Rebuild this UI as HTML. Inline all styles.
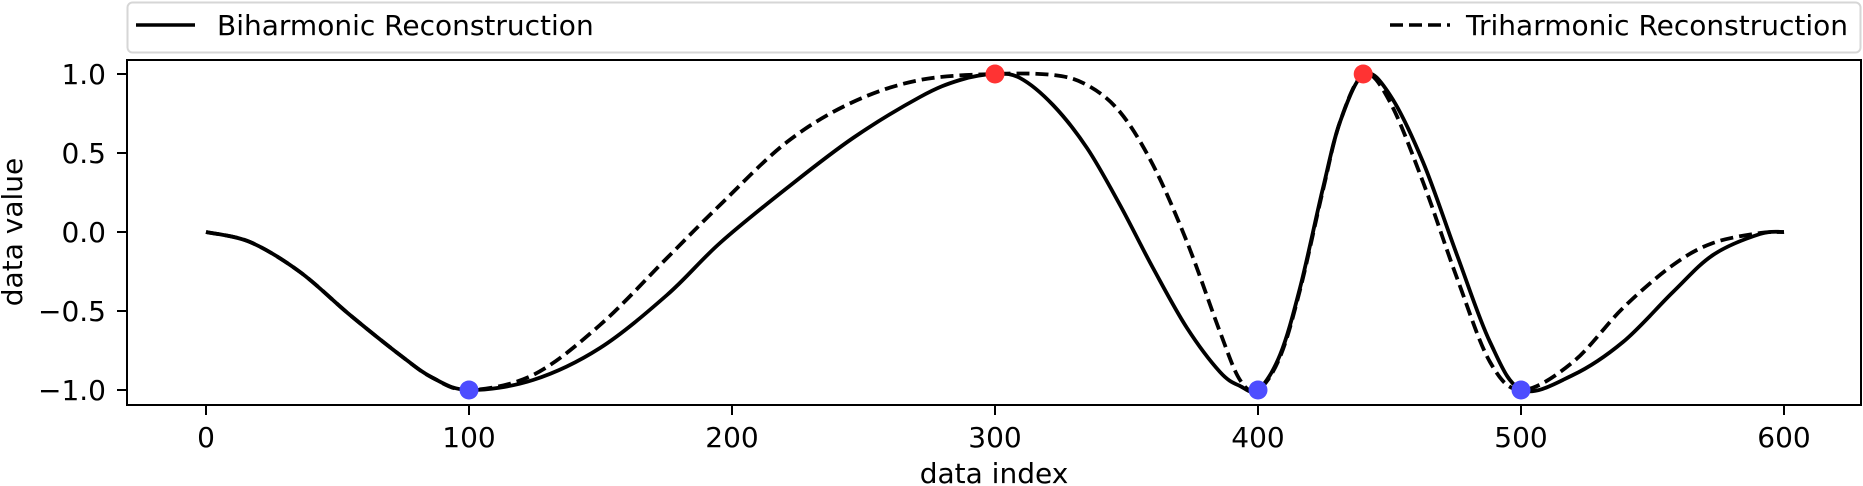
<!DOCTYPE html>
<html><head><meta charset="utf-8"><style>
html,body{margin:0;padding:0;background:#fff}
svg{display:block}
text{font-family:"DejaVu Sans","Liberation Sans",sans-serif;font-size:28px;fill:#000}
</style></head><body>
<svg id="s" width="1863" height="486" xmlns="http://www.w3.org/2000/svg">
<rect x="0" y="0" width="1863" height="486" fill="#fff"/>
<rect x="127.5" y="2.5" width="1733" height="50" rx="5" fill="#fff" stroke="#d6d6d6" stroke-width="2"/>
<line x1="136" y1="25" x2="195" y2="25" stroke="#000" stroke-width="3.5"/>
<text x="217" y="35">Biharmonic Reconstruction</text>
<line x1="1390" y1="25" x2="1450" y2="25" stroke="#000" stroke-width="3.5" stroke-dasharray="13,6"/>
<text x="1848" y="35" text-anchor="end">Triharmonic Reconstruction</text>
<path id="solid" fill="none" stroke="#000" stroke-width="3.8" stroke-linejoin="round"/>
<path id="dash" fill="none" stroke="#000" stroke-width="3.8" stroke-dasharray="13,6"/>
<g id="marks"></g>
<rect x="127" y="60" width="1734" height="345" fill="none" stroke="#000" stroke-width="2"/>
<g id="ticks" stroke="#000" stroke-width="2"></g>
<g id="labels"></g>
<text x="994" y="483" text-anchor="middle">data index</text>
<text transform="translate(22,232) rotate(-90)" text-anchor="middle">data value</text>
</svg>
<script>
const NS="http://www.w3.org/2000/svg";
const X=v=>206+2.63*v, Y=v=>232-158*v;
function cr(pts){let d="M"+pts[0][0]+","+pts[0][1];for(let i=0;i<pts.length-1;i++){const p0=pts[Math.max(0,i-1)],p1=pts[i],p2=pts[i+1],p3=pts[Math.min(pts.length-1,i+2)];
const c1=[p1[0]+(p2[0]-p0[0])/6,p1[1]+(p2[1]-p0[1])/6],c2=[p2[0]-(p3[0]-p1[0])/6,p2[1]-(p3[1]-p1[1])/6];
d+=" C"+c1[0].toFixed(1)+","+c1[1].toFixed(1)+" "+c2[0].toFixed(1)+","+c2[1].toFixed(1)+" "+p2[0].toFixed(1)+","+p2[1].toFixed(1);}return d;}
const head=[[206,232],[250,242],[300,272],[350,315],[400,355],[433,378],[469,390]];
const solid=head.concat([[533,380],[600,348],[667,295],[720,243],[787,188],[853,138],[920,97],[960,80],[995,74],
[1020,78],[1053,105],[1087,148],[1120,205],[1153,268],[1187,328],[1220,372],[1240,386],[1258,390],
[1280,355],[1300,288],[1323,188],[1340,122],[1364,74],[1390,95],[1423,162],[1457,255],[1490,342],[1522,390],
[1573,375],[1623,342],[1673,292],[1713,255],[1760,234],[1784,232]]);
const dash=head.concat([[533,375],[600,325],[667,258],[720,205],[787,142],[853,102],[920,80],[995,74],
[1053,75],[1087,85],[1120,112],[1153,165],[1187,242],[1220,332],[1240,380],[1258,390],
[1280,357],[1300,290],[1323,190],[1340,122],[1364,74],[1390,102],[1423,182],[1457,278],[1490,362],[1522,390],
[1573,362],[1623,308],[1673,265],[1713,243],[1760,233],[1784,232]]);
document.getElementById("solid").setAttribute("d",cr(solid));
document.getElementById("dash").setAttribute("d",cr(dash));
const m=document.getElementById("marks");
[[100,-1,"#4d4dff"],[300,1,"#ff3333"],[400,-1,"#4d4dff"],[440,1,"#ff3333"],[500,-1,"#4d4dff"]].forEach(a=>{const c=document.createElementNS(NS,"circle");c.setAttribute("cx",X(a[0]));c.setAttribute("cy",Y(a[1]));c.setAttribute("r",9.5);c.setAttribute("fill",a[2]);m.appendChild(c);});
const tk=document.getElementById("ticks"),lb=document.getElementById("labels");
function line(x1,y1,x2,y2){const l=document.createElementNS(NS,"line");l.setAttribute("x1",x1);l.setAttribute("y1",y1);l.setAttribute("x2",x2);l.setAttribute("y2",y2);tk.appendChild(l);}
function txt(x,y,s,a){const t=document.createElementNS(NS,"text");t.setAttribute("x",x);t.setAttribute("y",y);t.setAttribute("text-anchor",a);t.textContent=s;lb.appendChild(t);}
for(let v=0;v<=600;v+=100){line(X(v),405,X(v),415);txt(X(v),447,String(v),"middle");}
[1,0.5,0,-0.5,-1].forEach(v=>{line(117,Y(v),127,Y(v));txt(106,Y(v)+10,(v<0?"\u2212":"")+Math.abs(v).toFixed(1),"end");});
</script>
</body></html>
